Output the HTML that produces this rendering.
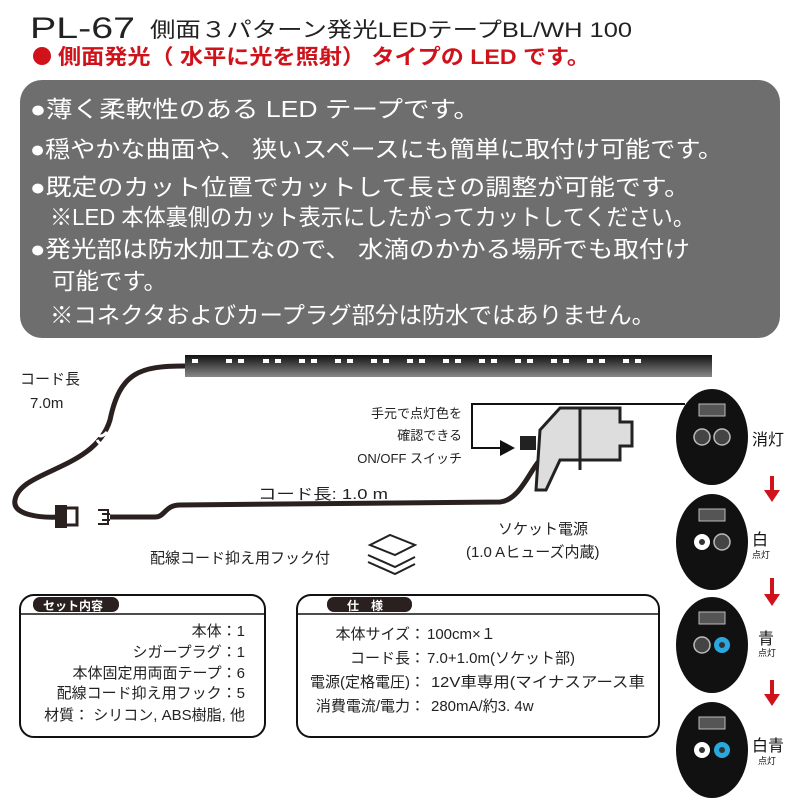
<!DOCTYPE html>
<html><head><meta charset="utf-8"><style>
body{margin:0;background:#fff;}
svg{display:block;font-family:"Liberation Sans","Noto Sans CJK JP",sans-serif;}
</style></head><body>
<svg width="800" height="800" viewBox="0 0 800 800" xmlns="http://www.w3.org/2000/svg">
<text x="30" y="38" font-size="30" fill="#222" textLength="105" lengthAdjust="spacingAndGlyphs">PL-67</text>
<text x="150" y="37" font-size="21" fill="#222" textLength="482" lengthAdjust="spacingAndGlyphs">側面３パターン発光LEDテープBL/WH 100</text>
<circle cx="42" cy="56" r="9" fill="#d0121b"/>
<text x="58" y="64" font-size="21" font-weight="bold" fill="#d0121b" textLength="532" lengthAdjust="spacingAndGlyphs">側面発光（ 水平に光を照射） タイプの LED です。</text>
<rect x="20" y="80" width="760" height="258" rx="22" fill="#6e6e6e"/>
<g fill="#fff" font-size="23" lengthAdjust="spacingAndGlyphs">
<text x="30" y="117" textLength="450" lengthAdjust="spacingAndGlyphs">●薄く柔軟性のある LED テープです。</text>
<text x="30" y="157" textLength="693" lengthAdjust="spacingAndGlyphs">●穏やかな曲面や、 狭いスペースにも簡単に取付け可能です。</text>
<text x="30" y="195" textLength="660" lengthAdjust="spacingAndGlyphs">●既定のカット位置でカットして長さの調整が可能です。</text>
<text x="50" y="225" textLength="645" lengthAdjust="spacingAndGlyphs">※LED 本体裏側のカット表示にしたがってカットしてください。</text>
<text x="30" y="257" textLength="660" lengthAdjust="spacingAndGlyphs">●発光部は防水加工なので、 水滴のかかる場所でも取付け</text>
<text x="52" y="289" textLength="115" lengthAdjust="spacingAndGlyphs">可能です。</text>
<text x="50" y="323" textLength="605" lengthAdjust="spacingAndGlyphs">※コネクタおよびカープラグ部分は防水ではありません。</text>
</g>
<defs><linearGradient id="g" x1="0" y1="0" x2="0" y2="1"><stop offset="0" stop-color="#111"/><stop offset="1" stop-color="#888"/></linearGradient></defs>
<rect x="185" y="355" width="527" height="22" fill="url(#g)"/>
<g fill="#fff">
<rect x="192" y="359" width="6" height="4"/><rect x="226" y="359" width="6" height="4"/><rect x="238" y="359" width="6" height="4"/>
<rect x="263" y="359" width="6" height="4"/><rect x="275" y="359" width="6" height="4"/><rect x="299" y="359" width="6" height="4"/><rect x="311" y="359" width="6" height="4"/>
<rect x="335" y="359" width="6" height="4"/><rect x="347" y="359" width="6" height="4"/><rect x="371" y="359" width="6" height="4"/><rect x="383" y="359" width="6" height="4"/>
<rect x="407" y="359" width="6" height="4"/><rect x="419" y="359" width="6" height="4"/><rect x="443" y="359" width="6" height="4"/><rect x="455" y="359" width="6" height="4"/>
<rect x="479" y="359" width="6" height="4"/><rect x="491" y="359" width="6" height="4"/><rect x="515" y="359" width="6" height="4"/><rect x="527" y="359" width="6" height="4"/>
<rect x="551" y="359" width="6" height="4"/><rect x="563" y="359" width="6" height="4"/><rect x="587" y="359" width="6" height="4"/><rect x="599" y="359" width="6" height="4"/>
<rect x="623" y="359" width="6" height="4"/><rect x="635" y="359" width="6" height="4"/>
</g>
<path d="M185 366 C140 366 120 372 110 420 C95 470 20 470 15 500 C12 515 40 518 60 517" fill="none" stroke="#2a2020" stroke-width="5"/>
<path d="M95 432 q5 8 12 0 M97 440 q5 8 12 0" fill="none" stroke="#fff" stroke-width="3"/>
<rect x="55" y="505" width="12" height="23" fill="#2a2020"/>
<path d="M67 508 h10 v17 h-10" fill="none" stroke="#2a2020" stroke-width="3"/>
<path d="M98 510 h10 v14 h-10 M102 514 h8 M102 520 h8" fill="none" stroke="#2a2020" stroke-width="2"/>
<path d="M110 517 h45 C165 517 165 505 180 505 L500 502 C520 500 530 470 540 460" fill="none" stroke="#2a2020" stroke-width="5"/>
<path d="M540 430 l20-22 h60 v14 h12 v24 h-12 v14 h-60 l-14 30 h-10 z" fill="#ddd" stroke="#222" stroke-width="3"/>
<line x1="580" y1="408" x2="580" y2="470" stroke="#222" stroke-width="3"/>
<rect x="520" y="436" width="16" height="14" fill="#222"/>
<path d="M685 404 H472 V448 H500" fill="none" stroke="#111" stroke-width="2"/>
<polygon points="500,440 515,448 500,456" fill="#111"/>
<g font-size="13" fill="#222" text-anchor="end">
<text x="462" y="418">手元で点灯色を</text><text x="462" y="440">確認できる</text><text x="462" y="463">ON/OFF スイッチ</text>
</g>
<text x="20" y="384" font-size="15" fill="#222">コード長</text>
<text x="30" y="408" font-size="15" fill="#222">7.0m</text>
<text x="258" y="499" font-size="15" fill="#222" textLength="130" lengthAdjust="spacingAndGlyphs">コード長: 1.0 m</text>
<text x="498" y="534" font-size="15" fill="#222">ソケット電源</text>
<text x="466" y="557" font-size="15" fill="#222">(1.0 Aヒューズ内蔵)</text>
<text x="150" y="563" font-size="15" fill="#222">配線コード抑え用フック付</text>
<path d="M370 545 l20-10 l25 10 l-20 10z M368 555 l27 12 l20-10 M368 562 l27 12 l20-10" fill="#fff" stroke="#222" stroke-width="2"/>
<g>
<ellipse cx="712" cy="437" rx="36" ry="48" fill="#111"/>
<rect x="699" y="404" width="26" height="12" fill="#555" stroke="#bbb"/>
<circle cx="702" cy="437" r="8" fill="#444" stroke="#bbb" stroke-width="1.5"/><circle cx="722" cy="437" r="8" fill="#444" stroke="#bbb" stroke-width="1.5"/>
<text x="752" y="445" font-size="16" fill="#111">消灯</text>
<ellipse cx="712" cy="542" rx="36" ry="48" fill="#111"/>
<rect x="699" y="509" width="26" height="12" fill="#555" stroke="#bbb"/>
<circle cx="702" cy="542" r="8" fill="#fff"/><circle cx="702" cy="542" r="3" fill="#333"/><circle cx="722" cy="542" r="8" fill="#444" stroke="#bbb" stroke-width="1.5"/>
<text x="752" y="545" font-size="16" fill="#111">白</text><text x="752" y="558" font-size="9" fill="#111">点灯</text>
<ellipse cx="712" cy="645" rx="36" ry="48" fill="#111"/>
<rect x="699" y="612" width="26" height="12" fill="#555" stroke="#bbb"/>
<circle cx="702" cy="645" r="8" fill="#444" stroke="#bbb" stroke-width="1.5"/><circle cx="722" cy="645" r="8" fill="#29a8e0"/><circle cx="722" cy="645" r="3" fill="#333"/>
<text x="758" y="644" font-size="16" fill="#111">青</text><text x="758" y="656" font-size="9" fill="#111">点灯</text>
<ellipse cx="712" cy="750" rx="36" ry="48" fill="#111"/>
<rect x="699" y="717" width="26" height="12" fill="#555" stroke="#bbb"/>
<circle cx="702" cy="750" r="8" fill="#fff"/><circle cx="702" cy="750" r="3" fill="#333"/><circle cx="722" cy="750" r="8" fill="#29a8e0"/><circle cx="722" cy="750" r="3" fill="#333"/>
<text x="752" y="751" font-size="16" fill="#111">白青</text><text x="758" y="764" font-size="9" fill="#111">点灯</text>
</g>
<g fill="#d0121b">
<rect x="770" y="476" width="4" height="16"/><polygon points="764,490 780,490 772,502"/>
<rect x="770" y="578" width="4" height="16"/><polygon points="764,594 780,594 772,606"/>
<rect x="770" y="680" width="4" height="16"/><polygon points="764,694 780,694 772,706"/>
</g>
<rect x="20" y="595" width="245" height="142" rx="14" fill="#fff" stroke="#111" stroke-width="2"/>
<line x1="20" y1="614" x2="265" y2="614" stroke="#111" stroke-width="1.5"/>
<rect x="33" y="597" width="86" height="15" rx="7" fill="#2a2020"/>
<text x="43" y="610" font-size="12" font-weight="bold" fill="#fff">セット内容</text>
<g font-size="15" fill="#222" text-anchor="end">
<text x="245" y="636">本体：1</text><text x="245" y="657">シガープラグ：1</text><text x="245" y="678">本体固定用両面テープ：6</text><text x="245" y="698">配線コード抑え用フック：5</text><text x="245" y="720">材質： シリコン, ABS樹脂, 他</text>
</g>
<rect x="297" y="595" width="362" height="142" rx="14" fill="#fff" stroke="#111" stroke-width="2"/>
<line x1="297" y1="614" x2="659" y2="614" stroke="#111" stroke-width="1.5"/>
<rect x="327" y="597" width="85" height="15" rx="7" fill="#2a2020"/>
<text x="347" y="610" font-size="12" font-weight="bold" fill="#fff">仕　様</text>
<g font-size="15" fill="#222">
<text x="425" y="639" text-anchor="end">本体サイズ：</text><text x="427" y="639">100cm×１</text>
<text x="425" y="663" text-anchor="end">コード長：</text><text x="427" y="663">7.0+1.0m(ソケット部)</text>
<text x="425" y="687" text-anchor="end">電源(定格電圧)：</text><text x="431" y="687" textLength="214" lengthAdjust="spacingAndGlyphs">12V車専用(マイナスアース車</text>
<text x="425" y="711" text-anchor="end">消費電流/電力：</text><text x="431" y="711">280mA/約3. 4w</text>
</g>
</svg>
</body></html>
